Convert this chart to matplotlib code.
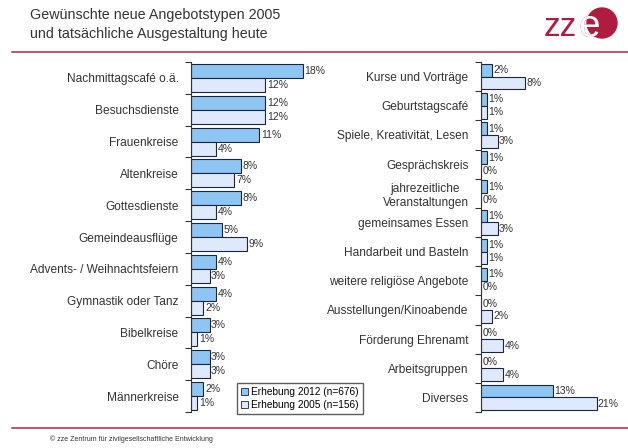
import matplotlib.pyplot as plt
from matplotlib.patches import Ellipse, Patch
from matplotlib.lines import Line2D

plt.rcParams['font.family'] = ['Liberation Sans', 'DejaVu Sans']

# linke Spalte
left_cats = ['Nachmittagscafé o.ä.', 'Besuchsdienste', 'Frauenkreise', 'Altenkreise',
             'Gottesdienste', 'Gemeindeausflüge', 'Advents- / Weihnachtsfeiern',
             'Gymnastik oder Tanz', 'Bibelkreise', 'Chöre', 'Männerkreise']
left_2012 = [18, 12, 11, 8, 8, 5, 4, 4, 3, 3, 2]
left_2005 = [12, 12, 4, 7, 4, 9, 3, 2, 1, 3, 1]

# rechte Spalte
right_cats = ['Kurse und Vorträge', 'Geburtstagscafé', 'Spiele, Kreativität, Lesen',
              'Gesprächskreis', 'jahrezeitliche\nVeranstaltungen', 'gemeinsames Essen',
              'Handarbeit und Basteln', 'weitere religiöse Angebote',
              'Ausstellungen/Kinoabende', 'Förderung Ehrenamt', 'Arbeitsgruppen', 'Diverses']
right_2012 = [2, 1, 1, 1, 1, 1, 1, 1, 0, 0, 0, 13]
right_2005 = [8, 1, 3, 0, 0, 3, 1, 0, 2, 4, 4, 21]

series_names = ['Erhebung 2012 (n=676)', 'Erhebung 2005 (n=156)']
c2012 = '#8ec5f2'
c2005 = '#dfe9fc'
edge = '#1a2540'
txt = '#333333'
red = '#b23a55'
logo = '#b01c3f'

W, H = 628, 448
fig = plt.figure(figsize=(6.28, 4.48), dpi=100)
fig.patch.set_facecolor('white')


def px(x0, y0, x1, y1):
    return [x0 / W, 1 - y1 / H, (x1 - x0) / W, (y1 - y0) / H]


def panel(rect, cats, a, b, xmax):
    ax = fig.add_axes(rect)
    n = len(cats)
    h = 0.44
    ys = list(range(n))
    ax.barh([y - h / 2 for y in ys], a, height=h, color=c2012, edgecolor=edge, linewidth=0.8)
    ax.barh([y + h / 2 for y in ys], b, height=h, color=c2005, edgecolor=edge, linewidth=0.8)
    for y, v in zip(ys, a):
        ax.text(v + 0.25, y - h / 2, f'{v}%', va='center', ha='left', fontsize=7.5, color=txt)
    for y, v in zip(ys, b):
        ax.text(v + 0.25, y + h / 2, f'{v}%', va='center', ha='left', fontsize=7.5, color=txt)
    ax.set_xlim(0, xmax)
    ax.set_ylim(n - 0.5, -0.5)
    ax.set_yticks(ys)
    ax.set_yticklabels(cats, fontsize=8.6, color=txt, multialignment='center')
    ax.set_yticks([y - 0.5 for y in range(n + 1)], minor=True)
    ax.tick_params(axis='y', which='major', length=0, pad=9)
    ax.tick_params(axis='y', which='minor', length=4, width=0.8, color='#333333')
    ax.set_xticks([])
    for s in ['top', 'right', 'bottom']:
        ax.spines[s].set_visible(False)
    ax.spines['left'].set_color('#333333')
    ax.spines['left'].set_linewidth(0.8)
    ax.patch.set_alpha(0)
    return ax


axl = panel(px(191, 62, 315, 412), left_cats, left_2012, left_2005, 20)
axr = panel(px(481, 62, 613, 412), right_cats, right_2012, right_2005, 24)

# Titel
fig.text(30 / W, 1 - 15 / H, 'Gewünschte neue Angebotstypen 2005', fontsize=10.3, color=txt, va='center')
fig.text(30 / W, 1 - 34 / H, 'und tatsächliche Ausgestaltung heute', fontsize=10.3, color=txt, va='center')

# Logo
fig.text(560 / W, 1 - 27 / H, 'zz', fontsize=24, color=logo, ha='center', va='center')
fig.text(589 / W, 1 - 27 / H, 'e', fontsize=28, color=logo, ha='center', va='center')
cx, cy, r = 602, 23, 15
fig.patches.append(Ellipse((cx / W, 1 - cy / H), 2 * r / W, 2 * r / H,
                           transform=fig.transFigure, color=logo))
e2 = fig.text(589 / W, 1 - 27 / H, 'e', fontsize=28, color='white', ha='center', va='center')
e2.set_clip_path(Ellipse((cx / W, 1 - cy / H), 2 * r / W, 2 * r / H, transform=fig.transFigure))

# Linien
fig.add_artist(Line2D([12 / W, 1], [1 - 52 / H] * 2, color=red, lw=1.2))
fig.add_artist(Line2D([12 / W, 1], [1 - 428 / H] * 2, color=red, lw=1.2))

fig.text(50 / W, 1 - 439 / H, '© zze Zentrum für zivilgesellschaftliche Entwicklung', fontsize=5, color=txt, va='center')

handles = [Patch(facecolor=c2012, edgecolor=edge, lw=0.6), Patch(facecolor=c2005, edgecolor=edge, lw=0.6)]
fig.legend(handles, series_names, loc='upper left', bbox_to_anchor=(237 / W, 1 - 383 / H),
           fontsize=7.3, frameon=True, fancybox=False, edgecolor='#333333', handlelength=0.7,
           handleheight=0.7, handletextpad=0.3, borderpad=0.4, labelspacing=0.3, borderaxespad=0)

fig.savefig('out.png', dpi=100)
